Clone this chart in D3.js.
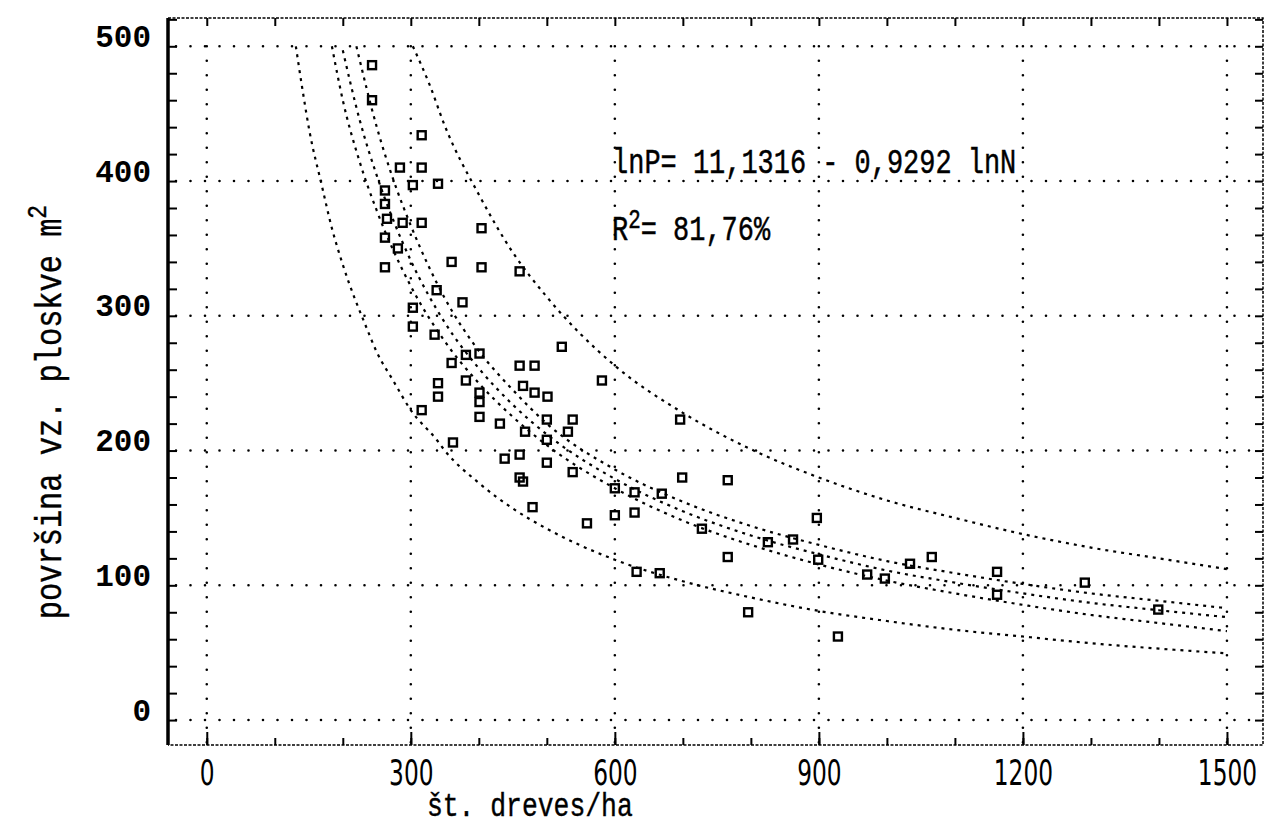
<!DOCTYPE html>
<html>
<head>
<meta charset="utf-8">
<script src="https://cdn.jsdelivr.net/npm/d3@7"></script>
<style>
    html, body { margin: 0; padding: 0; background: #fff; }
</style>
</head>
<body>
<div id="chart"></div>
<script>
'use strict'

////////////////////////////////////
//////////// data //////////////////
////////////////////////////////////

// observed plots: [trees per ha, plot area m2]
const plots = [
    [243,486],[243,460],[316,434],[284,410],[316,410],[303,397],[340,398],[262,393],[262,383],
    [265,372],[288,369],[316,369],[404,365],[262,358],[281,350],[360,340],[262,336],[404,336],
    [460,333],[338,319],[376,310],[303,306],[303,292],[335,286],[522,277],[381,271],[401,272],
    [360,265],[460,263],[482,263],[340,250],[340,240],[381,252],[401,243],[465,248],[482,243],
    [501,240],[581,252],[401,236],[401,225],[316,230],[431,220],[500,223],[538,223],[468,214],
    [531,214],[500,208],[362,206],[438,194],[460,197],[460,180],[465,177],[500,191],[538,184],
    [629,169],[479,158],[559,146],[600,152],[629,154],[600,172],[669,168],[699,180],[766,178],
    [696,223],[728,142],[825,132],[862,134],[897,150],[766,121],[899,119],[632,110],[666,109],
    [796,80],[928,62],[971,108],[997,105],[1034,116],[1066,121],[1162,110],[1162,93],[1291,102],
    [1399,82]
]

// fitted curve
const fitLine = [[200,497],[225,445],[250,404],[275,370],[300,341],[350,295],[400,261],[450,234],
    [500,212],[600,179],[700,155],[800,137],[900,123],[1000,111],[1100,102],[1200,94],[1300,87],
    [1400,81.5],[1500,76.4]]

// inner band (confidence)
const confUpper = [[220,500],[250,440],[275,400],[300,367],[350,313],[400,274],[450,245],[500,220],
    [600,186],[700,162],[800,144],[900,130],[1000,118],[1100,109],[1200,101],[1300,94],[1400,88.5],[1500,83]]
const confLower = [[184,500],[200,460],[225,414],[250,378],[300,322],[350,281],[400,250],[450,225],
    [500,204],[600,172],[700,148],[800,130],[900,115.5],[1000,103.5],[1100,94],[1200,85.5],[1300,78],
    [1400,72],[1500,66]]

// outer band (prediction)
const predUpper = [[303,500],[328,471],[350,441],[400,390],[450,347],[500,314],[600,263],[700,228],
    [800,201],[900,180],[1000,163],[1100,150],[1200,138],[1300,128],[1400,120],[1500,112]]
const predLower = [[131,500],[141,467],[151,437],[169,397],[184,365],[200,338],[235,291],[250,273],
    [274,252],[300,230],[338,208],[350,200],[400,176],[450,157],[500,142],[600,119],[700,103],[800,91],
    [900,81],[1000,73.5],[1100,67],[1200,62],[1300,57],[1400,53],[1500,49.5]]

const xTicks = [0, 300, 600, 900, 1200, 1500]
const yTicks = [0, 100, 200, 300, 400, 500]

const equationText = 'lnP= 11,1316 - 0,9292 lnN'
const r2Value = '= 81,76%'
const xTitle = 'št. dreves/ha'
const yTitle = 'površina vz. ploskve m'

////////////////////////////////////
//////////// svg setup /////////////
////////////////////////////////////

const svgWidth = 1267
const svgHeight = 828
const margin = { left: 168, top: 18, right: 4, bottom: 83 }
const width = svgWidth - margin.left - margin.right
const height = svgHeight - margin.top - margin.bottom

const mono = "'Liberation Mono', 'DejaVu Sans Mono', monospace"
const narrow = "'Liberation Sans Narrow', 'DejaVu Sans Condensed', sans-serif"

const root = d3.select('#chart')
    .append('svg')
    .attr('width', svgWidth)
    .attr('height', svgHeight)
    .style('background', '#fff')

const svg = root.append('g')
    .attr('transform', `translate(${margin.left},${margin.top})`)

////////////////////////////////////
//////////// Scales ////////////////
////////////////////////////////////

const x = d3.scaleLinear().domain([-57, 1553]).range([0, width])
const y = d3.scaleLinear().domain([-18.5, 521]).range([height, 0])

////////////////////////////////////
//////////// Grid //////////////////
////////////////////////////////////

svg.append('g').selectAll('line')
    .data(xTicks)
    .join('line')
    .attr('x1', d => x(d)).attr('x2', d => x(d))
    .attr('y1', y(500)).attr('y2', height)
    .attr('stroke', '#000')
    .attr('stroke-width', 2.6)
    .attr('stroke-linecap', 'round')
    .attr('stroke-dasharray', '0,14.5')

svg.append('g').selectAll('line')
    .data(yTicks)
    .join('line')
    .attr('x1', 8).attr('x2', width)
    .attr('y1', d => y(d)).attr('y2', d => y(d))
    .attr('stroke', '#000')
    .attr('stroke-width', 2.6)
    .attr('stroke-linecap', 'round')
    .attr('stroke-dasharray', '0,14.5')

////////////////////////////////////
//////////// Axis //////////////////
////////////////////////////////////

// minor ticks all round the frame
svg.append('g')
    .attr('transform', `translate(0,${height})`)
    .call(d3.axisBottom(x).tickValues(d3.range(0, 1501, 100)).tickSize(-7).tickFormat(''))

svg.append('g')
    .call(d3.axisTop(x).tickValues(d3.range(0, 1501, 100)).tickSize(-8).tickFormat(''))

svg.append('g')
    .call(d3.axisLeft(y).tickValues(d3.range(0, 521, 20)).tickSize(-9).tickFormat(''))

svg.append('g')
    .attr('transform', `translate(${width},0)`)
    .call(d3.axisRight(y).tickValues(d3.range(0, 521, 20)).tickSize(-8).tickFormat(''))

// labelled ticks
const xAxis = svg.append('g')
    .attr('transform', `translate(0,${height})`)
    .call(d3.axisBottom(x).tickValues(xTicks).tickSize(-13).tickPadding(15).tickFormat(d3.format('d')))

xAxis.selectAll('text')
    .attr('font-family', narrow)
    .attr('font-size', 35)
    .attr('transform', 'scale(0.74,1)')
    .attr('fill', '#000')

const yAxis = svg.append('g')
    .call(d3.axisLeft(y).tickValues(yTicks).tickSize(0).tickPadding(17).tickFormat(d3.format('d')))

yAxis.selectAll('text')
    .attr('font-family', mono)
    .attr('font-weight', 'bold')
    .attr('font-size', 31)
    .attr('dy', '0.0em')
    .attr('fill', '#000')

svg.selectAll('.domain').remove()
svg.selectAll('.tick line')
    .attr('stroke', '#000')
    .attr('stroke-width', 2)

// frame
svg.append('line')
    .attr('x1', 0).attr('x2', 0).attr('y1', 0).attr('y2', height)
    .attr('stroke', '#000').attr('stroke-width', 3.5)

svg.append('path')
    .attr('d', `M0,0H${width}V${height}H0`)
    .attr('fill', 'none')
    .attr('stroke', '#000')
    .attr('stroke-width', 1.5)
    .attr('stroke-dasharray', '3,1.5')

////////////////////////////////////
//////////// curves ////////////////
////////////////////////////////////

const curve = d3.line()
    .x(d => x(d[0]))
    .y(d => y(d[1]))
    .curve(d3.curveMonotoneX)

const bands = [predLower, confLower, fitLine, confUpper, predUpper]

svg.append('g').selectAll('path')
    .data(bands)
    .join('path')
    .attr('d', d => curve(d))
    .attr('fill', 'none')
    .attr('stroke', '#000')
    .attr('stroke-width', 2.2)
    .attr('stroke-dasharray', '3,5')

////////////////////////////////////
//////////// points ////////////////
////////////////////////////////////

svg.append('g').selectAll('rect')
    .data(plots)
    .join('rect')
    .attr('x', d => x(d[0]) - 4)
    .attr('y', d => y(d[1]) - 4)
    .attr('width', 8)
    .attr('height', 8)
    .attr('fill', 'none')
    .attr('stroke', '#000')
    .attr('stroke-width', 2.4)

////////////////////////////////////
//////////// text //////////////////
////////////////////////////////////

svg.append('g')
    .attr('transform', `translate(${x(596)},${y(406)}) scale(0.77,1)`)
    .append('text')
    .attr('font-family', mono)
    .attr('font-size', 35)
    .attr('fill', '#000')
    .attr('stroke', '#000')
    .attr('stroke-width', 0.5)
    .text(equationText)

const r2 = svg.append('g')
    .attr('transform', `translate(${x(596)},${y(356)}) scale(0.77,1)`)
    .append('text')
    .attr('font-family', mono)
    .attr('font-size', 35)
    .attr('fill', '#000')
    .attr('stroke', '#000')
    .attr('stroke-width', 0.5)

r2.append('tspan').text('R')
r2.append('tspan').text('2').attr('font-size', 27).attr('dy', -12)
r2.append('tspan').text(r2Value).attr('dy', 12)

// axis titles
root.append('g')
    .attr('transform', `translate(${margin.left + x(475)},${svgHeight - 12}) scale(0.8,1)`)
    .append('text')
    .attr('text-anchor', 'middle')
    .attr('font-family', mono)
    .attr('font-size', 33)
    .attr('fill', '#000')
    .attr('stroke', '#000')
    .attr('stroke-width', 0.4)
    .text(xTitle)

const yt = root.append('g')
    .attr('transform', `translate(61,412) rotate(-90) scale(0.82,1)`)
    .append('text')
    .attr('text-anchor', 'middle')
    .attr('font-family', mono)
    .attr('font-size', 37)
    .attr('fill', '#000')
    .attr('stroke', '#000')
    .attr('stroke-width', 0.4)

yt.append('tspan').text(yTitle)
yt.append('tspan').text('2').attr('font-size', 28).attr('dy', -15)

</script>
</body>
</html>
